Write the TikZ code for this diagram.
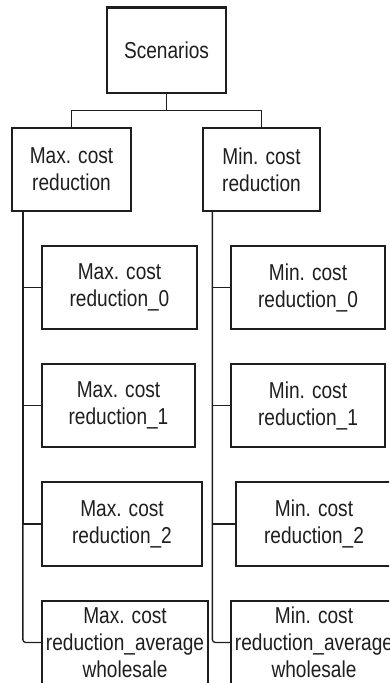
\documentclass[tikz,border=0pt]{standalone}
\usepackage{fontspec}
\setmainfont{Liberation Sans}[FakeStretch=0.83]
\definecolor{ink}{HTML}{1E1E1E}
\begin{document}
\begin{tikzpicture}[x=1pt,y=-1pt,
  box/.style={draw=ink, line width=1.3pt, inner sep=0pt, align=center, text=ink,
    font=\fontsize{23}{27}\selectfont},
  link/.style={draw=ink, line width=1.3pt}]
\useasboundingbox (0,0) rectangle (389,683);
\clip (0,0) rectangle (389,683);
\node[box, minimum width=119pt, minimum height=85pt] (scen) at (166.5,50.5) {Scenarios};
\draw[ink, line width=2.8pt] (scen.north west) -- (scen.north east);
\node[box, minimum width=119pt, minimum height=83pt] (maxr) at (71.5,169.5) {Max. cost\\reduction};
\node[box, minimum width=117pt, minimum height=83pt] (minr) at (261.5,169.5) {Min. cost\\reduction};
\node[box, minimum width=155pt, minimum height=83pt] (max0) at (119.5,287.5) {Max. cost\\reduction\_0};
\node[box, minimum width=153pt, minimum height=83pt] (max1) at (118.5,405.5) {Max. cost\\reduction\_1};
\node[box, minimum width=160pt, minimum height=84pt] (max2) at (122,524) {Max. cost\\reduction\_2};
\node[box, minimum width=166pt, minimum height=83pt] (maxa) at (125,642.5) {Max. cost\\reduction\_average\\wholesale};
\node[box, minimum width=154pt, minimum height=83pt] (min0) at (308,287.5) {Min. cost\\reduction\_0};
\node[box, minimum width=154pt, minimum height=83pt] (min1) at (308,405.5) {Min. cost\\reduction\_1};
\node[box, minimum width=156pt, minimum height=84pt] (min2) at (314,524) {Min. cost\\reduction\_2};
\node[box, minimum width=166pt, minimum height=83pt] (mina) at (314,642.5) {Min. cost\\reduction\_average\\wholesale};
% top level
\draw[link] (scen.south) -- ++(0,17) coordinate (split) -| (maxr.north);
\draw[link] (split) -| (minr.north);
% left trunk
\coordinate (lt) at ([xshift=11.5pt]maxr.south west);
\draw[link] (lt) |- (max0.west);
\draw[link] (lt) |- (max1.west);
\draw[link] (lt) |- (max2.west);
\draw[link, rounded corners=3pt] (lt) |- (maxa.west);
% right trunk
\coordinate (rt) at ([xshift=10pt]minr.south west);
\draw[link] (rt) |- (min0.west);
\draw[link] (rt) |- (min1.west);
\draw[link] (rt) |- (min2.west);
\draw[link, rounded corners=3pt] (rt) |- (mina.west);
\end{tikzpicture}
\end{document}
